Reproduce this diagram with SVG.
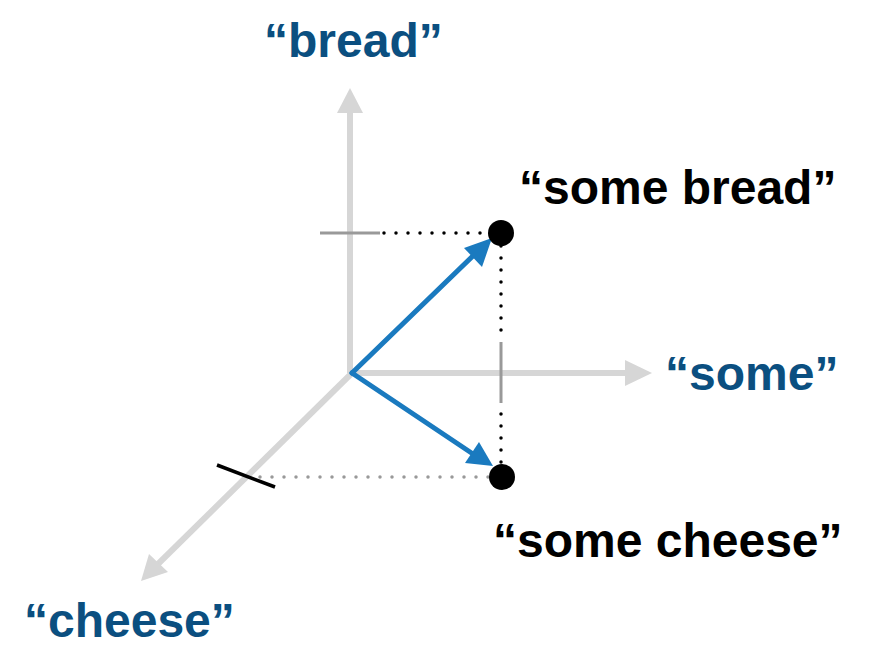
<svg xmlns="http://www.w3.org/2000/svg" width="870" height="668" viewBox="0 0 870 668">
<style>
.axis{stroke:#d6d6d6;stroke-width:6;fill:none}
.axhead{fill:#d6d6d6}
.vec{stroke:#1a7abf;stroke-width:5;fill:none;stroke-linecap:round}
.vechead{fill:#1a7abf}
.lbl{font-family:"Liberation Sans",Arial,sans-serif;font-weight:bold;font-size:48px}
.blue{fill:#0b4f80}
.blk{fill:#000}
</style>
<rect width="870" height="668" fill="#fff"/>
<g id="axes">
<line class="axis" x1="350" y1="373" x2="350" y2="110"/>
<polygon class="axhead" points="350,88 337,113 363,113"/>
<line class="axis" x1="350" y1="373" x2="628" y2="373"/>
<polygon class="axhead" points="652,373 625,360 625,386"/>
<line class="axis" x1="352" y1="373" x2="158" y2="564"/>
<polygon class="axhead" points="141,581 149,554 168,572"/>
</g>
<g id="connectors">
<line x1="320" y1="233" x2="380" y2="233" stroke="#999" stroke-width="3"/>
<line x1="384" y1="233" x2="496" y2="233" stroke="#000" stroke-width="3.5" stroke-linecap="round" stroke-dasharray="0 12"/>
<line x1="501" y1="342" x2="501" y2="403" stroke="#999" stroke-width="3"/>
<line x1="501" y1="246" x2="501" y2="338" stroke="#000" stroke-width="3.5" stroke-linecap="round" stroke-dasharray="0 12"/>
<line x1="501" y1="414" x2="501" y2="466" stroke="#000" stroke-width="3.5" stroke-linecap="round" stroke-dasharray="0 12"/>
<line x1="260" y1="477" x2="490" y2="477" stroke="#999" stroke-width="3.5" stroke-linecap="round" stroke-dasharray="0 12"/>
<line x1="217" y1="465" x2="275" y2="487" stroke="#000" stroke-width="3.5"/>
<line class="vec" x1="352" y1="373" x2="478" y2="251"/>
<polygon class="vechead" points="492,238 482,267 464,248"/>
<line class="vec" x1="352" y1="373" x2="476" y2="456"/>
<polygon class="vechead" points="493,466 465,463 479,442"/>
</g>
<g id="point-some-bread">
<circle cx="501" cy="233" r="13" fill="#000"/>
<text class="lbl blk" x="519" y="204">“some bread”</text>
</g>
<g id="point-some-cheese">
<circle cx="502" cy="477" r="13" fill="#000"/>
<text class="lbl blk" x="493" y="557">“some cheese”</text>
</g>
<g id="label-bread"><text class="lbl blue" x="264" y="57">“bread”</text></g>
<g id="label-some"><text class="lbl blue" x="665" y="390">“some”</text></g>
<g id="label-cheese"><text class="lbl blue" x="24" y="637">“cheese”</text></g>
</svg>
